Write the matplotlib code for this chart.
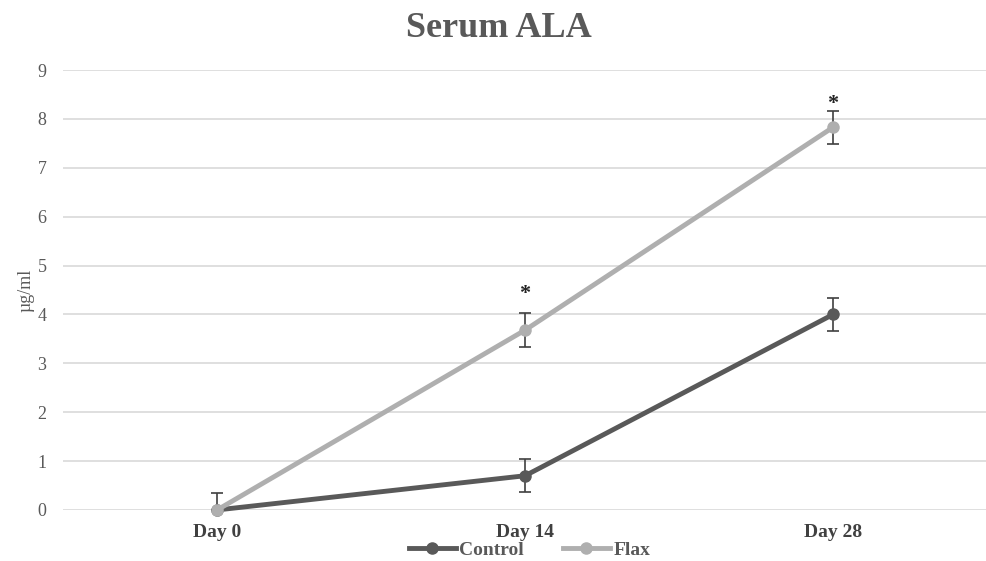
"""
Serum ALA grafiği - Control vs Flax
"""
import matplotlib
matplotlib.use("Agg")
import matplotlib.pyplot as plt
from matplotlib.lines import Line2D

# Veriler
days = ["Day 0", "Day 14", "Day 28"]
control = [0.0, 0.70, 4.00]
control_err_low = [0.0, 0.33, 0.33]
control_err_high = [0.34, 0.34, 0.34]
flax = [0.0, 3.68, 7.83]
flax_err = [0.0, 0.34, 0.34]
star_days = [1, 2]
star_y = [4.42, 8.30]

CONTROL_C = '#595959'
FLAX_C = '#AFAFAF'

plt.rcParams['font.family'] = ['Liberation Serif', 'DejaVu Serif']

fig = plt.figure(figsize=(9.87, 5.61), dpi=100)
ax = fig.add_axes([0.064, 0.091, 0.936, 0.784])

x = list(range(len(days)))

for vals, lo, hi, col, z in [(control, control_err_low, control_err_high, CONTROL_C, 3),
                             (flax, flax_err, flax_err, FLAX_C, 4)]:
    _, caps, bars = ax.errorbar(x, vals, yerr=[lo, hi], color=col,
                                ecolor='#404040', elinewidth=1.2, capsize=4, capthick=1.2,
                                linewidth=3.5, marker='o', markersize=8, zorder=z)
    for art in list(caps) + list(bars):
        art.set_clip_on(False)
for line in ax.lines:
    line.set_clip_on(False)

for d, y in zip(star_days, star_y):
    ax.text(d, y, '*', ha='center', va='center', fontsize=16, fontweight='bold', color='#222222')

ax.set_xlim(-0.5, 2.5)
ax.set_ylim(0, 9)
ax.set_yticks(range(0, 10))
ax.set_xticks(x)
ax.set_xticklabels(days, fontweight='bold', fontsize=14, color='#404040')
ax.tick_params(axis='y', labelsize=13, labelcolor='#595959', length=0, pad=12)
ax.tick_params(axis='x', length=0, pad=10)
ax.grid(axis='y', color='#D9D9D9', linewidth=1.2)
ax.set_axisbelow(True)
for s in ax.spines.values():
    s.set_visible(False)

ax.set_ylabel('µg/ml', fontsize=13, color='#595959', labelpad=2)
fig.suptitle('Serum ALA', x=0.505, y=0.978, fontsize=26, fontweight='bold', color='#595959')

handles = [Line2D([], [], color=CONTROL_C, linewidth=3.5, marker='o', markersize=8),
           Line2D([], [], color=FLAX_C, linewidth=3.5, marker='o', markersize=8)]
leg = ax.legend(handles, ['Control', 'Flax'], loc='center', bbox_to_anchor=(0.505, -0.092),
                ncol=2, frameon=False, prop={'weight': 'bold', 'size': 14},
                handlelength=2.4, columnspacing=2.0, handletextpad=0.2, borderpad=0)
for t in leg.get_texts():
    t.set_color('#595959')

fig.savefig('out.png', dpi=100)
